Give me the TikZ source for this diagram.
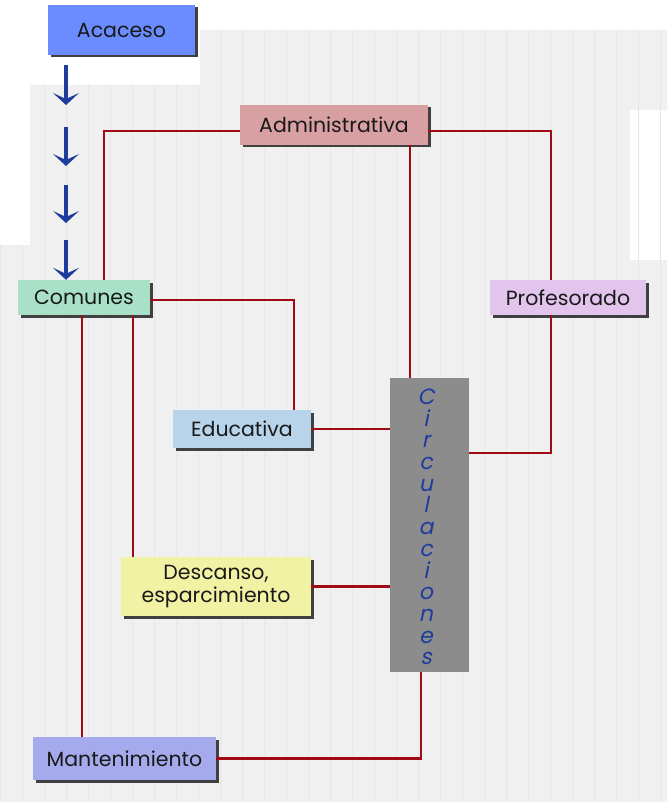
\documentclass[tikz,border=0pt]{standalone}
\usepackage{fontspec}
\setmainfont{Poppins}
\newfontfamily\slantfont[FakeSlant=0.2]{Poppins}
\usetikzlibrary{arrows.meta,shadows,calc}
\definecolor{linkred}{HTML}{A00A14}
\definecolor{arrblue}{HTML}{1E3C9C}
\definecolor{bgray}{HTML}{F0F0F0}
\definecolor{gridc}{HTML}{E6E6E6}
\tikzset{
  plainbox/.style={draw=none, inner sep=0pt, font=\fontsize{20.5}{25}\selectfont, text=black!90},
  box/.style={plainbox,
    drop shadow={shadow xshift=2.5pt, shadow yshift=-2.5pt, fill=black!75, opacity=1}},
  link/.style={draw=linkred, line width=2.8pt},
  downarr/.style={draw=arrblue, line width=3.5pt, -{Stealth[length=12pt,width=26pt,inset=6pt]}}
}
\begin{document}
\begin{tikzpicture}[x=1pt,y=-1pt]
\useasboundingbox (0,0) rectangle (667,802);
% background
\fill[white] (0,0) rectangle (667,802);
\fill[bgray] (200,30) -- (667,30) -- (667,802) -- (0,802) -- (0,245) -- (30,245) -- (30,85) -- (200,85) -- cycle;
\fill[white] (630,110) rectangle (667,260);
\begin{scope}
\clip (200,30) -- (667,30) -- (667,802) -- (0,802) -- (0,245) -- (30,245) -- (30,85) -- (200,85) -- cycle;
\draw[gridc, line width=0.5pt, step=22] (0,0) grid (667,802);
\end{scope}
% nodes
\node[box, fill={rgb,255:red,106;green,140;blue,255}, minimum width=147pt, minimum height=50pt] (acc) at (121.5,30) {Acaceso};
\node[box, fill={rgb,255:red,168;green,224;blue,200}, minimum width=132pt, minimum height=35pt] (com) at (84,297.5) {Comunes};
\node[box, fill={rgb,255:red,217;green,160;blue,164}, minimum width=188pt, minimum height=40pt] (adm) at (334,125) {Administrativa};
\node[box, fill={rgb,255:red,226;green,196;blue,236}, minimum width=156pt, minimum height=35pt] (prof) at (568,297.5) {Profesorado};
\node[box, fill={rgb,255:red,184;green,212;blue,234}, minimum width=138pt, minimum height=38pt] (edu) at (242,429) {Educativa};
\node[plainbox, fill={rgb,255:red,140;green,140;blue,140}, minimum width=79pt, minimum height=294pt] (circ) at (429.5,525) {};
\node[inner sep=0pt, text=arrblue, font=\slantfont\fontsize{22}{21.7}\selectfont, align=center] (circt) at (426,527) {C\\i\\r\\c\\u\\l\\a\\c\\i\\o\\n\\e\\s};
\node[box, fill={rgb,255:red,242;green,242;blue,164}, minimum width=190pt, minimum height=59pt, align=center, font=\fontsize{20.5}{23}\selectfont] (desc) at (216,586.5) {Descanso,\\esparcimiento};
\node[box, fill={rgb,255:red,164;green,170;blue,236}, minimum width=183pt, minimum height=43pt] (mant) at (124.5,758.5) {Mantenimiento};
% arrows
\coordinate (a1) at (66,65);
\coordinate (a2) at (66,105);
\coordinate (a3) at (66,127);
\coordinate (a4) at (66,166);
\coordinate (a5) at (66,185);
\coordinate (a6) at (66,223);
\coordinate (a7) at (66,240);
\draw[downarr] (a1) -- (a2);
\draw[downarr] (a3) -- (a4);
\draw[downarr] (a5) -- (a6);
\draw[downarr] (a7) -- ([xshift=-18pt]com.north);
% links
\draw[link] ([yshift=-6pt]adm.west) -| ([xshift=20pt]com.north);
\draw[link] ([yshift=-6pt]adm.east) -| ([xshift=-17pt]prof.north);
\draw[link] ([xshift=76pt]adm.south) -- ([xshift=76pt]adm.south |- circ.north);
\draw[link] ([xshift=-17pt]prof.south) |- ([yshift=72pt]circ.east);
\draw[link] ([yshift=-2.5pt]com.east) -| ([xshift=52pt]edu.north);
\draw[link] (edu.east) -- (edu.east -| circ.west);
\draw[link] ([xshift=49pt]com.south) -- ([xshift=49pt]com.south |- desc.north);
\draw[link] ([xshift=-2pt]com.south) -- ([xshift=-2pt]com.south |- mant.north);
\draw[link] (desc.east) -- (desc.east -| circ.west);
\draw[link] ([xshift=-8.5pt]circ.south) |- (mant.east);
\end{tikzpicture}
\end{document}
